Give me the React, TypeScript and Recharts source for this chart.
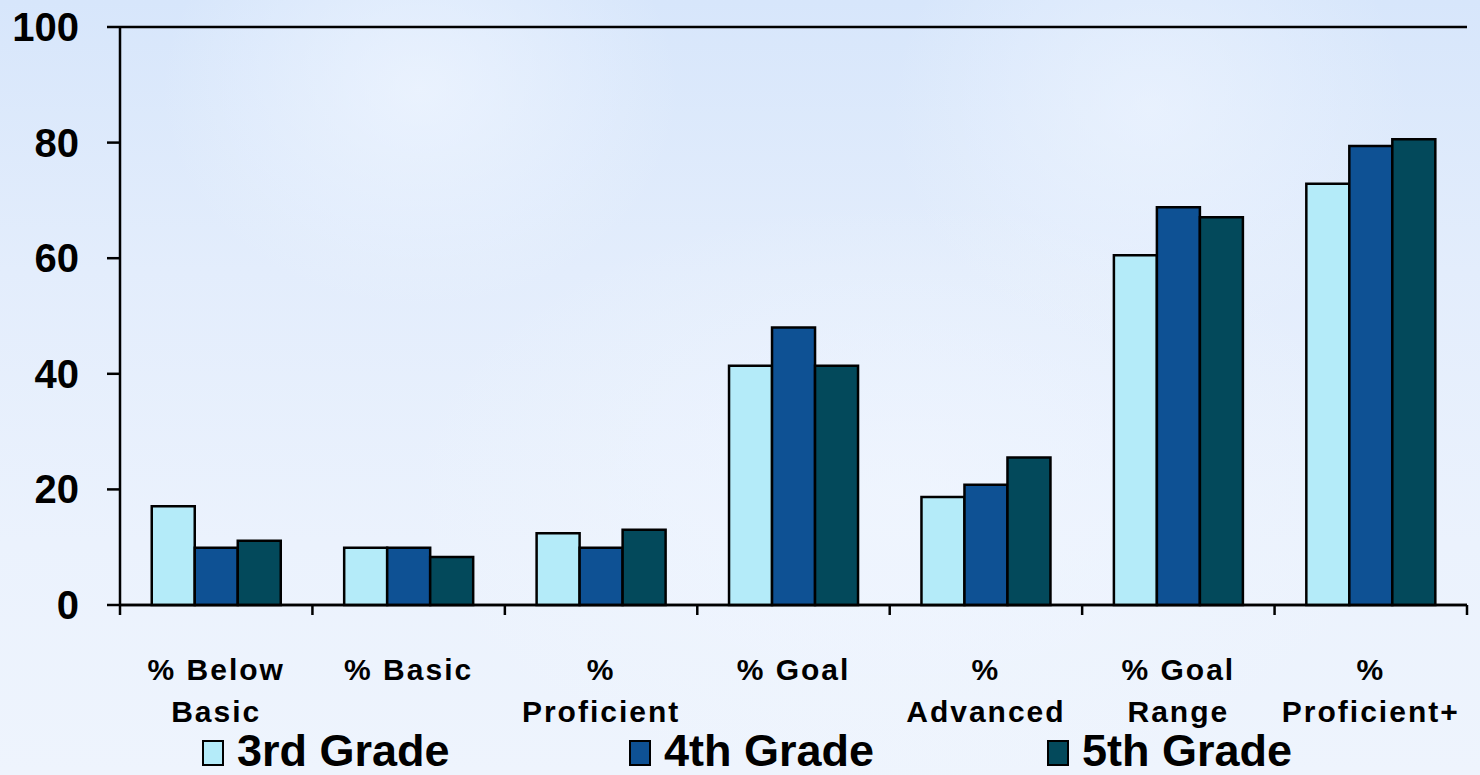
import React from 'react';
import { BarChart, Bar, XAxis, YAxis, CartesianGrid } from 'recharts';

// chart data
const categories = ['% Below\nBasic', '% Basic', '%\nProficient', '% Goal', '%\nAdvanced', '% Goal\nRange', '%\nProficient+'];
const grade3 = [17.1, 9.9, 12.4, 41.4, 18.7, 60.5, 72.9];
const grade4 = [9.9, 9.9, 9.9, 48.0, 20.8, 68.8, 79.4];
const grade5 = [11.1, 8.3, 13.0, 41.4, 25.5, 67.1, 80.6];
const yTicks = [0, 20, 40, 60, 80, 100];

const seriesNames = ['3rd Grade', '4th Grade', '5th Grade'];
const seriesColors = ['#b4ebf9', '#0e5194', '#03495b'];

const W = 1480;
const H = 775;
const Y_W = 120;
const RIGHT = 13;
const HALF_BAND = (W - Y_W - RIGHT) / categories.length / 2;
const FONT = '"Liberation Sans", Arial, sans-serif';

const data = categories.map((name, i) => ({
  name,
  g3: grade3[i],
  g4: grade4[i],
  g5: grade5[i],
}));

// two-line category labels + boundary tick marks
const CategoryTick = (props: any) => {
  const { x, y, payload, index } = props;
  const lines = String(payload.value).split('\n');
  return (
    <g>
      <line x1={x - HALF_BAND} x2={x - HALF_BAND} y1={y - 10} y2={y} stroke="#000" strokeWidth={2.5} />
      {index === categories.length - 1 && (
        <line x1={x + HALF_BAND} x2={x + HALF_BAND} y1={y - 10} y2={y} stroke="#000" strokeWidth={2.5} />
      )}
      {lines.map((ln, i) => (
        <text
          key={i}
          x={x}
          y={y + 65 + i * 42}
          textAnchor="middle"
          fontFamily={FONT}
          fontWeight="bold"
          fontSize={30}
          letterSpacing={2}
          fill="#000"
        >
          {ln}
        </text>
      ))}
    </g>
  );
};

const ValueTick = (props: any) => {
  const { x, y, payload } = props;
  return (
    <text x={x} y={y + 14} textAnchor="end" fontFamily={FONT} fontWeight="bold" fontSize={40} fill="#000">
      {payload.value}
    </text>
  );
};

const legendLeft = [202, 629, 1047];

const App = () => {
  return (
    <div
      style={{
        position: 'absolute',
        left: 0,
        top: 0,
        width: W,
        height: H,
        overflow: 'hidden',
        background:
          'radial-gradient(ellipse 260px 220px at 420px 90px, rgba(240,246,255,0.7), rgba(240,246,255,0) 100%),' +
          'radial-gradient(ellipse 260px 240px at 1150px 110px, rgba(240,246,255,0.6), rgba(240,246,255,0) 100%),' +
          'radial-gradient(ellipse 500px 300px at 900px 500px, rgba(242,247,255,0.6), rgba(242,247,255,0) 100%),' +
          'linear-gradient(180deg, #d7e6fb 0%, #e3edfc 35%, #ebf2fd 70%, #eef4fd 100%)',
      }}
    >
      <BarChart
        width={W}
        height={H}
        data={data}
        margin={{ top: 27, right: RIGHT, left: 0, bottom: 0 }}
        barCategoryGap="16.5%"
        barGap={0}
      >
        <CartesianGrid vertical={false} stroke="#000" strokeWidth={2.5} />
        <XAxis
          dataKey="name"
          interval={0}
          height={H - 27 - 578}
          tickLine={false}
          tickSize={10}
          tickMargin={0}
          axisLine={{ stroke: '#000', strokeWidth: 2.5 }}
          tick={<CategoryTick />}
        />
        <YAxis
          yAxisId="left"
          width={Y_W}
          domain={[0, 100]}
          ticks={yTicks}
          interval={0}
          tickSize={13}
          tickMargin={28}
          tickLine={{ stroke: '#000', strokeWidth: 2.5 }}
          axisLine={{ stroke: '#000', strokeWidth: 2.5 }}
          tick={<ValueTick />}
        />
        <YAxis
          yAxisId="right"
          orientation="right"
          width={0}
          domain={[0, 100]}
          tick={false}
          tickLine={false}
          axisLine={{ stroke: '#000', strokeWidth: 2.5 }}
        />
        {['g3', 'g4', 'g5'].map((k, i) => (
          <Bar
            key={k}
            yAxisId="left"
            dataKey={k}
            name={seriesNames[i]}
            fill={seriesColors[i]}
            stroke="#000"
            strokeWidth={2.5}
            isAnimationActive={false}
          />
        ))}
      </BarChart>
      {seriesNames.map((name, i) => (
        <div
          key={name}
          style={{
            position: 'absolute',
            left: legendLeft[i],
            top: 731,
            display: 'flex',
            alignItems: 'flex-start',
            fontFamily: FONT,
            fontWeight: 'bold',
            fontSize: 45,
            lineHeight: '40px',
            color: '#000',
            whiteSpace: 'nowrap',
          }}
        >
          <span
            style={{
              display: 'inline-block',
              boxSizing: 'border-box',
              width: 22,
              height: 26,
              marginTop: 9,
              marginRight: 13,
              background: seriesColors[i],
              border: '2.5px solid #000',
            }}
          />
          {name}
        </div>
      ))}
    </div>
  );
};

export default App;
